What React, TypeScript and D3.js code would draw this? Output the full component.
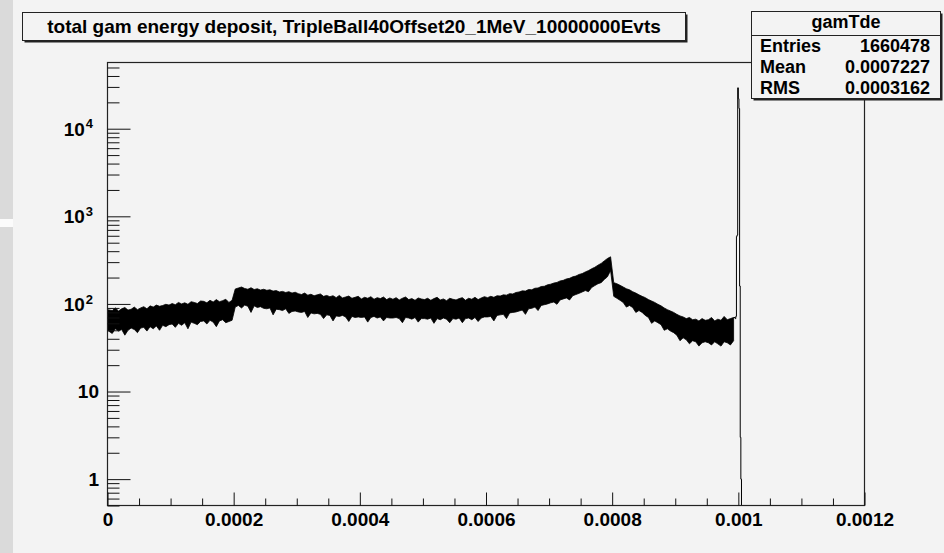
import { useEffect, useRef } from "react";
import * as d3 from "d3";

// bin layout of the continuum part (0 .. 0.000995)
const BIN_WIDTH = 0.000005;

// upper / lower edge of the noisy band, counts per bin
const bandHigh = [
  86, 84, 90, 83, 88, 91, 85, 87, 92, 86,
  90, 93, 88, 95, 92, 97, 94, 96, 99, 97,
  101, 98, 104, 100, 103, 99, 106, 104, 101, 108,
  107, 103, 110, 105, 112, 106, 109, 113, 104, 110,
  148, 152, 156, 150, 147, 153, 146, 149, 144, 147,
  143, 145, 140, 142, 137, 139, 135, 138, 133, 136,
  131, 128, 133, 126, 129, 124, 127, 130, 122, 125,
  121, 124, 118, 125, 117, 120, 123, 116, 119, 122,
  114, 119, 116, 121, 113, 118, 115, 120, 112, 117,
  113, 118, 111, 116, 120, 112, 115, 110, 117, 114,
  112, 116, 110, 115, 119, 111, 114, 109, 116, 113,
  111, 115, 118, 110, 116, 113, 119, 112, 117, 121,
  118, 122, 119, 124, 123, 127, 126, 131, 130, 135,
  137, 141, 140, 146, 145, 151, 152, 158, 159, 165,
  168, 173, 176, 183, 186, 193, 196, 204, 208, 217,
  222, 232, 240, 252, 262, 277, 290, 310, 330, 345,
  175, 170, 163, 156, 149, 145, 138, 133, 127, 122,
  118, 112, 108, 104, 99, 95, 90, 86, 83, 80,
  76, 73, 71, 68, 70, 66, 67, 64, 68, 65,
  66, 70, 64, 67, 65, 72, 66, 68, 70,
];
const bandLow = [
  50, 46, 52, 49, 51, 44, 50, 53, 51, 47,
  53, 54, 49, 55, 52, 56, 50, 57, 55, 58,
  59, 54, 60, 57, 61, 52, 62, 60, 58, 63,
  64, 59, 65, 62, 55, 64, 66, 61, 63, 65,
  92, 96, 90, 97, 94, 80, 95, 91, 93, 89,
  88, 90, 75, 87, 86, 84, 88, 78, 82, 83,
  81, 80, 82, 70, 79, 77, 78, 76, 68, 75,
  74, 64, 73, 72, 74, 71, 63, 72, 70, 71,
  70, 71, 62, 70, 72, 69, 71, 64, 70, 69,
  69, 70, 68, 61, 70, 69, 67, 70, 62, 68,
  68, 67, 69, 60, 68, 66, 69, 67, 61, 68,
  67, 69, 61, 68, 69, 66, 70, 63, 69, 71,
  71, 72, 64, 74, 75, 76, 68, 79, 80, 81,
  83, 85, 76, 88, 89, 92, 84, 96, 98, 100,
  103, 105, 99, 111, 114, 117, 111, 124, 128, 132,
  137, 142, 138, 154, 162, 170, 175, 190, 204, 240,
  122, 116, 110, 104, 92, 96, 91, 80, 84, 80,
  74, 70, 60, 64, 61, 58, 50, 52, 49, 47,
  44, 38, 41, 39, 35, 38, 37, 33, 36, 37,
  36, 34, 37, 35, 33, 37, 36, 34, 38,
];

// full-energy peak, fine bins
const PEAK_START = 0.000995;
const PEAK_WIDTH = 0.000001;
const peakCounts = [68, 72, 590, 610, 29300, 22000, 17000, 160, 3, 1, 0, 0];

const xTicks = [0, 0.0002, 0.0004, 0.0006, 0.0008, 0.001, 0.0012];
const xTickLabels = ["0", "0.0002", "0.0004", "0.0006", "0.0008", "0.001", "0.0012"];
const yTicks = [1, 10, 100, 1000, 10000];
const yTickBase = ["1", "10", "10", "10", "10"];
const yTickExp = ["", "", "2", "3", "4"];

const title = "total gam energy deposit, TripleBall40Offset20_1MeV_10000000Evts";
const statsName = "gamTde";
const statLabels = ["Entries", "Mean", "RMS"];
const statValues = ["1660478", "0.0007227", "0.0003162"];

const W = 944;
const H = 553;
const FONT = "'Liberation Sans', Arial, Helvetica, sans-serif";

export default function App() {
  const ref = useRef<SVGSVGElement>(null);

  useEffect(() => {
    const svg = d3.select(ref.current);
    svg.selectAll("*").remove();

    const left = 107.5, right = 864.5, top = 62.5, bottom = 505.5;
    const x = d3.scaleLinear().domain([0, 0.0012]).range([left, right]);
    const y = d3.scaleLog().domain([0.5, 57000]).range([bottom, top]);
    const yv = (v: number) => (v <= 0.5 ? bottom : y(v));

    // background
    svg.append("rect").attr("width", W).attr("height", H).attr("fill", "#f3f3f3");
    svg.append("rect").attr("width", 13).attr("height", H).attr("fill", "#dadada");
    svg.append("rect").attr("y", 219).attr("width", 13).attr("height", 8).attr("fill", "#fbfbfb");

    const plot = svg.append("g");
    plot.append("clipPath").attr("id", "frameClip")
      .append("rect").attr("x", left).attr("y", top)
      .attr("width", right - left).attr("height", bottom - top);

    // noisy continuum band
    const idx = d3.range(bandHigh.length);
    const area = d3.area<number>()
      .x(i => x(i * BIN_WIDTH + (i === 0 ? 0 : BIN_WIDTH / 2)))
      .y0(i => yv(bandLow[i]))
      .y1(i => yv(bandHigh[i]));
    plot.append("path")
      .attr("clip-path", "url(#frameClip)")
      .attr("d", area(idx))
      .attr("fill", "#000").attr("stroke", "#000").attr("stroke-width", 0.8);

    // peak at 1 MeV
    const pk = peakCounts.map((c, i) => [PEAK_START + i * PEAK_WIDTH, c] as [number, number]);
    const line = d3.line<[number, number]>()
      .x(d => x(d[0]))
      .y(d => yv(d[1]))
      .curve(d3.curveStepAfter);
    const lastI = bandHigh.length - 1;
    const joined: [number, number][] = [[lastI * BIN_WIDTH + BIN_WIDTH / 2, bandHigh[lastI]], ...pk];
    plot.append("path")
      .attr("d", line(joined))
      .attr("fill", "none").attr("stroke", "#000").attr("stroke-width", 1);

    // frame
    svg.append("rect")
      .attr("x", left).attr("y", top)
      .attr("width", right - left).attr("height", bottom - top)
      .attr("fill", "none").attr("stroke", "#222").attr("stroke-width", 1.2);

    // x axis
    const xMinor = d3.range(0, 24).map(i => i * 0.00005).filter(v => !xTicks.some(t => Math.abs(t - v) < 1e-9));
    const gx = svg.append("g").attr("transform", `translate(0,${bottom})`);
    gx.call(d3.axisBottom(x).tickValues(xMinor).tickSize(-7).tickSizeOuter(0).tickFormat(() => ""));
    const gx2 = svg.append("g").attr("transform", `translate(0,${bottom})`);
    gx2.call(d3.axisBottom(x).tickValues(xTicks).tickSize(-13).tickSizeOuter(0).tickPadding(7)
      .tickFormat((_, i) => xTickLabels[i]));
    gx2.selectAll("text")
      .attr("font-family", FONT).attr("font-weight", "bold").attr("font-size", 19)
      .attr("fill", "#000");
    [gx, gx2].forEach(g => {
      g.select(".domain").remove();
      g.selectAll("line").attr("stroke", "#111");
    });

    // y axis
    const yMinor: number[] = [];
    [0.1, 1, 10, 100, 1000, 10000].forEach(d => {
      for (let k = 2; k <= 9; k++) {
        const v = k * d;
        if (v >= 0.5 && v <= 57000) yMinor.push(v);
      }
    });
    const gy = svg.append("g").attr("transform", `translate(${left},0)`);
    gy.call(d3.axisLeft(y).tickValues(yMinor).tickSize(-12).tickSizeOuter(0).tickFormat(() => ""));
    const gy2 = svg.append("g").attr("transform", `translate(${left},0)`);
    gy2.call(d3.axisLeft(y).tickValues(yTicks).tickSize(-23).tickSizeOuter(0).tickFormat(() => ""));
    [gy, gy2].forEach(g => {
      g.select(".domain").remove();
      g.selectAll("line").attr("stroke", "#111");
    });

    const yl = svg.append("g")
      .attr("font-family", FONT).attr("font-weight", "bold").attr("fill", "#000");
    yTicks.forEach((t, i) => {
      const tx = yl.append("text")
        .attr("x", yTickExp[i] ? 93 : 99).attr("y", y(t))
        .attr("text-anchor", "end").attr("dy", "0.36em").attr("font-size", 19);
      tx.append("tspan").text(yTickBase[i]);
      if (yTickExp[i]) {
        tx.append("tspan").attr("dx", 1).attr("dy", "-0.55em").attr("font-size", 13).text(yTickExp[i]);
      }
    });

    // title box
    const tb = { x: 22.5, y: 12.5, w: 663, h: 28 };
    svg.append("rect").attr("x", tb.x + 2).attr("y", tb.y + 2).attr("width", tb.w).attr("height", tb.h).attr("fill", "#222");
    svg.append("rect").attr("x", tb.x).attr("y", tb.y).attr("width", tb.w).attr("height", tb.h)
      .attr("fill", "#f3f3f3").attr("stroke", "#222").attr("stroke-width", 1);
    svg.append("text")
      .attr("x", tb.x + tb.w / 2).attr("y", tb.y + tb.h / 2)
      .attr("text-anchor", "middle").attr("dy", "0.36em")
      .attr("font-family", FONT).attr("font-weight", "bold").attr("font-size", 19)
      .text(title);

    // stats box
    const sb = { x: 751.5, y: 11.5, w: 189, h: 87 };
    svg.append("rect").attr("x", sb.x + 2).attr("y", sb.y + 2).attr("width", sb.w).attr("height", sb.h).attr("fill", "#222");
    svg.append("rect").attr("x", sb.x).attr("y", sb.y).attr("width", sb.w).attr("height", sb.h)
      .attr("fill", "#f3f3f3").attr("stroke", "#222").attr("stroke-width", 1);
    svg.append("line").attr("x1", sb.x).attr("x2", sb.x + sb.w).attr("y1", 35.5).attr("y2", 35.5)
      .attr("stroke", "#222");
    const st = svg.append("g").attr("font-family", FONT).attr("font-weight", "bold")
      .attr("font-size", 18).attr("fill", "#000");
    st.append("text").attr("x", sb.x + sb.w / 2).attr("y", 22)
      .attr("text-anchor", "middle").attr("dy", "0.36em").text(statsName);
    const rowY = d3.scaleLinear().domain([0, 2]).range([45.5, 87.5]);
    statLabels.forEach((l, i) => {
      st.append("text").attr("x", 760).attr("y", rowY(i)).attr("dy", "0.36em").text(l);
      st.append("text").attr("x", 930).attr("y", rowY(i))
        .attr("text-anchor", "end").attr("dy", "0.36em").text(statValues[i]);
    });
  }, []);

  return (
    <svg ref={ref} width={W} height={H}
      style={{ position: "absolute", left: 0, top: 0, display: "block" }} />
  );
}
